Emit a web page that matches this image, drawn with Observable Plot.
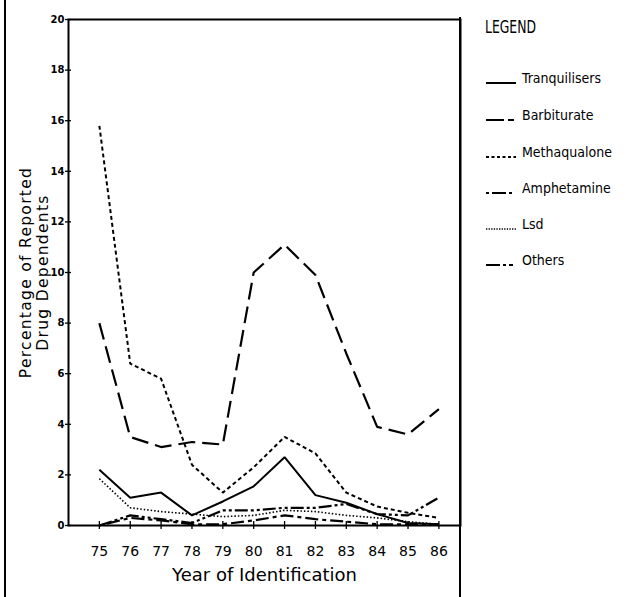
<!DOCTYPE html>
<html>
<head>
<meta charset="utf-8">
<script src="https://cdn.jsdelivr.net/npm/d3@7"></script>
<script src="https://cdn.jsdelivr.net/npm/@observablehq/plot@0.6"></script>
<style>
  html, body { margin: 0; padding: 0; background: #fff; }
  #wrap { position: relative; width: 627px; height: 597px; overflow: hidden; background: #fff; }
  #wrap > svg.plot { position: absolute; left: 0; top: 0; }
  .bar { position: absolute; background: #000; }
  #legend { position: absolute; left: 478px; top: 0; }
</style>
</head>
<body>
<div id="wrap"></div>
<script>
// ---- data ----
const years = [75, 76, 77, 78, 79, 80, 81, 82, 83, 84, 85, 86];
const yTicks = [0, 2, 4, 6, 8, 10, 12, 14, 16, 18, 20];
const seriesNames = ["Tranquilisers", "Barbiturate", "Methaqualone", "Amphetamine", "Lsd", "Others"];
const tranquilisers = [2.2, 1.1, 1.3, 0.4, 0.95, 1.55, 2.7, 1.2, 0.9, 0.45, 0.1, 0.05];
const barbiturate   = [8.0, 3.5, 3.1, 3.3, 3.2, 10.0, 11.1, 9.9, 6.8, 3.9, 3.6, 4.6];
const methaqualone  = [15.8, 6.4, 5.8, 2.4, 1.3, 2.3, 3.5, 2.85, 1.3, 0.75, 0.5, 0.3];
const amphetamine   = [0, 0.3, 0.2, 0.05, 0.05, 0.2, 0.4, 0.25, 0.15, 0.05, 0.05, 0.05];
const lsd           = [1.85, 0.7, 0.55, 0.45, 0.35, 0.4, 0.6, 0.55, 0.4, 0.3, 0.15, 0.05];
const others        = [0, 0.4, 0.25, 0.1, 0.6, 0.6, 0.7, 0.7, 0.85, 0.45, 0.4, 1.1];
const seriesValues = [tranquilisers, barbiturate, methaqualone, amphetamine, lsd, others];

// ---- styles ----
const dash = {
  Tranquilisers: null,
  Barbiturate: "17,7",
  Methaqualone: "4,3",
  Amphetamine: "4,4,13,4",
  Lsd: "1.5,2",
  Others: "13,3,3,3,3,3"
};
const width = {Tranquilisers: 2, Barbiturate: 2.2, Methaqualone: 2, Amphetamine: 2.2, Lsd: 1.6, Others: 2.2};

const rows = [];
seriesNames.forEach((name, si) => {
  years.forEach((yr, i) => rows.push({series: name, year: yr, value: seriesValues[si][i]}));
});

const font = "'DejaVu Sans', sans-serif";

const lineMarks = seriesNames.map(name =>
  Plot.line(rows.filter(r => r.series === name), {
    x: "year", y: "value", stroke: "black",
    strokeWidth: width[name], strokeDasharray: dash[name],
    strokeLinejoin: "miter", strokeLinecap: "butt"
  })
);

const chart = Plot.plot({
  width: 627,
  height: 597,
  marginLeft: 68,
  marginRight: 167,
  marginTop: 19,
  marginBottom: 72,
  style: {fontFamily: font, background: "white", color: "black"},
  x: {domain: [74, 86.7]},
  y: {domain: [0, 20]},
  marks: [
    Plot.axisY({ticks: yTicks, tickSize: 0, tickPadding: 4, fontSize: 10, fontWeight: "bold", label: null}),
    Plot.axisX({ticks: years, tickSize: 0, tickPadding: 21, fontSize: 14, tickFormat: d => String(d), label: null}),
    Plot.ruleY(yTicks, {y: d => d, x1: 74, x2: 74, insetLeft: -3, insetRight: -3, stroke: "black", strokeWidth: 1.3}),
    Plot.ruleX(years, {x: d => d, y1: 0, y2: 0, insetTop: -4, insetBottom: -4, stroke: "black", strokeWidth: 1.3}),
    Plot.frame({stroke: "black", strokeWidth: 2}),
    ...lineMarks,
    Plot.text(["Year of Identification"], {frameAnchor: "bottom", dy: 55, fontSize: 18, fill: "black"}),
    Plot.text(["Percentage of Reported\nDrug Dependents"], {frameAnchor: "left", dx: -34, rotate: -90, fontSize: 15.5, lineHeight: 1.1, fill: "black", textAnchor: "middle"})
  ]
});
chart.classList.add("plot");
d3.select(chart).selectAll("text").filter(function () {
  return this.textContent.startsWith("Percentage");
}).style("letter-spacing", "1.3px");
const wrap = document.getElementById("wrap");
wrap.appendChild(chart);

// border lines of the figure
const leftBar = document.createElement("div");
leftBar.className = "bar";
Object.assign(leftBar.style, {left: "4px", top: "0px", width: "2px", height: "597px"});
wrap.appendChild(leftBar);
const rightBar = document.createElement("div");
rightBar.className = "bar";
Object.assign(rightBar.style, {left: "459px", top: "17px", width: "2px", height: "580px"});
wrap.appendChild(rightBar);

// legend
const lg = d3.select(wrap).append("svg").attr("id", "legend")
  .attr("width", 149).attr("height", 290)
  .style("font-family", "'DejaVu Sans Condensed', 'DejaVu Sans', sans-serif");
lg.append("text").attr("x", 7).attr("y", 33).attr("font-size", 18).attr("fill", "black")
  .attr("textLength", 51).attr("lengthAdjust", "spacingAndGlyphs").text("LEGEND");
const rowY = [78, 115, 152, 188, 224, 260];
seriesNames.forEach((name, i) => {
  const g = lg.append("g").attr("transform", `translate(0,${rowY[i]})`);
  g.append("line").attr("x1", 8).attr("x2", 38).attr("y1", 5).attr("y2", 5)
    .attr("stroke", "black").attr("stroke-width", name === "Lsd" ? 1.3 : 2)
    .attr("stroke-dasharray", name === "Tranquilisers" ? null : ({
      Barbiturate: "18,4,6,10", Methaqualone: "3,2.5", Amphetamine: "3,3,14,3,3,10", Lsd: "1.3,1.3", Others: "14,3,3,3,4"
    })[name]);
  g.append("text").attr("x", 44).attr("y", 5).attr("font-size", 14).attr("fill", "black").text(name);
});
</script>
</body>
</html>
